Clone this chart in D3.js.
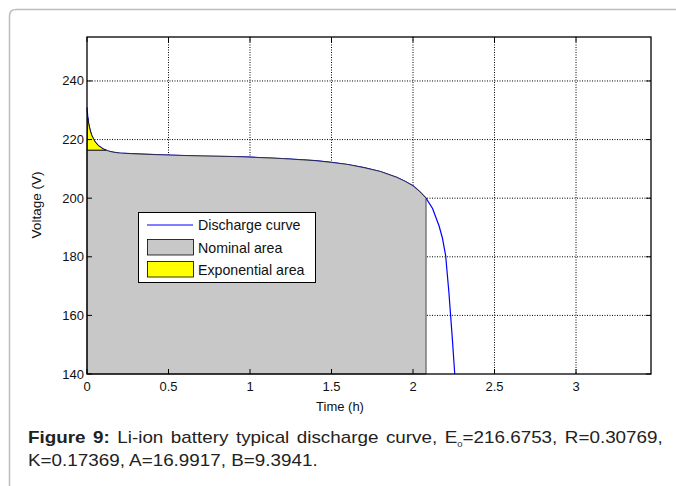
<!DOCTYPE html>
<html>
<head>
<meta charset="utf-8">
<script src="https://cdn.jsdelivr.net/npm/d3@7"></script>
<style>
  html, body { margin: 0; padding: 0; background: #fff; }
  svg { display: block; font-family: Arial, "Liberation Sans", Helvetica, sans-serif; }
</style>
</head>
<body>
<svg id="chart" width="676" height="486"></svg>
<script>
// ---- data ----
const timeH   = [0, 0.005, 0.01, 0.02, 0.03, 0.05, 0.07, 0.10, 0.13, 0.16, 0.20, 0.30, 0.50, 0.70, 0.90, 1.00, 1.20, 1.40, 1.50, 1.60, 1.70, 1.80, 1.90, 1.95, 2.00, 2.04, 2.08, 2.12, 2.16, 2.18, 2.20, 2.22, 2.24, 2.256];
const voltage = [231, 227.5, 225.5, 223.0, 221.3, 219.2, 217.9, 216.8, 216.1, 215.7, 215.4, 215.1, 214.7, 214.4, 214.2, 214.0, 213.5, 212.8, 212.2, 211.5, 210.4, 209.1, 207.1, 205.8, 204.2, 202.3, 200.0, 196.5, 190.5, 186.5, 180.5, 168.0, 153.0, 140.0];
const nominalLevel = 216.4;   // top of exponential zone
const nominalEndTime = 2.08;  // end of nominal zone
const xTicks = [0, 0.5, 1, 1.5, 2, 2.5, 3];
const yTicks = [140, 160, 180, 200, 220, 240];
const legendLabels = ["Discharge curve", "Nominal area", "Exponential area"];
const xLabel = "Time (h)";
const yLabel = "Voltage (V)";

const svg = d3.select("#chart");
const L = 87, R = 651, T = 37, B = 374;
const x = d3.scaleLinear().domain([0, 3.46]).range([L, R]);
const y = d3.scaleLinear().domain([140, 255]).range([B, T]);

// outer frame with rounded top-left corner
svg.append("path")
  .attr("d", `M9.5,490 L9.5,16 Q9.5,9.5 16,9.5 L680,9.5`)
  .attr("fill", "none").attr("stroke", "#bdbdbd").attr("stroke-width", 1.5);

const pts = timeH.map((t, i) => [t, voltage[i]]);

// find crossing with nominal level
let crossIdx = pts.findIndex(p => p[1] <= nominalLevel);
const pA = pts[crossIdx - 1], pB = pts[crossIdx];
const tCross = pA[0] + (pA[1] - nominalLevel) / (pA[1] - pB[1]) * (pB[0] - pA[0]);

// grid
const grid = svg.append("g");
xTicks.filter(t => t > 0).forEach(t => {
  grid.append("line").attr("x1", x(t)).attr("x2", x(t)).attr("y1", T).attr("y2", B)
    .attr("stroke", "#000").attr("stroke-width", 1).attr("stroke-dasharray", "1,1.5");
});
yTicks.filter(v => v > 140).forEach(v => {
  grid.append("line").attr("x1", L).attr("x2", R).attr("y1", y(v)).attr("y2", y(v))
    .attr("stroke", "#000").attr("stroke-width", 1).attr("stroke-dasharray", "1,1.5");
});

const line = d3.line().x(d => x(d[0])).y(d => y(d[1]));

// blue discharge curve
svg.append("path").datum(pts).attr("d", line)
  .attr("fill", "none").attr("stroke", "#0000ff").attr("stroke-width", 1.2);

// nominal (gray) patch
const nomPts = [[0, 140], [0, nominalLevel], [tCross, nominalLevel]]
  .concat(pts.filter(p => p[0] > tCross && p[0] <= nominalEndTime))
  .concat([[nominalEndTime, 140]]);
svg.append("path").datum(nomPts).attr("d", d => line(d) + "Z")
  .attr("fill", "#c8c8c8").attr("stroke", "#222").attr("stroke-width", 0.8);

// exponential (yellow) patch
const expPts = pts.filter(p => p[0] < tCross && p[0] > 0.004).concat([[tCross, nominalLevel], [0, nominalLevel]]);
svg.append("path").datum(expPts).attr("d", d => line(d) + "Z")
  .attr("fill", "#ffff00").attr("stroke", "#000").attr("stroke-width", 0.8);

// axes box
svg.append("rect").attr("x", L).attr("y", T).attr("width", R - L).attr("height", B - T)
  .attr("fill", "none").attr("stroke", "#000").attr("stroke-width", 1.3);

// ticks (inside, all four sides)
const tk = svg.append("g").attr("stroke", "#000").attr("stroke-width", 1);
xTicks.forEach(t => {
  tk.append("line").attr("x1", x(t)).attr("x2", x(t)).attr("y1", B).attr("y2", B - 5);
  tk.append("line").attr("x1", x(t)).attr("x2", x(t)).attr("y1", T).attr("y2", T + 5);
});
yTicks.forEach(v => {
  tk.append("line").attr("x1", L).attr("x2", L + 5).attr("y1", y(v)).attr("y2", y(v));
  tk.append("line").attr("x1", R).attr("x2", R - 5).attr("y1", y(v)).attr("y2", y(v));
});

// tick labels
svg.append("g").selectAll("text").data(xTicks).join("text")
  .attr("x", d => x(d)).attr("y", B + 17).attr("text-anchor", "middle")
  .attr("font-size", 13).attr("fill", "#111").text(d => d);
svg.append("g").selectAll("text").data(yTicks).join("text")
  .attr("x", L - 3).attr("y", d => y(d) + 4.5).attr("text-anchor", "end")
  .attr("font-size", 13).attr("fill", "#111").text(d => d);

svg.append("text").attr("x", 340).attr("y", 411).attr("text-anchor", "middle")
  .attr("font-size", 13).attr("fill", "#111").text(xLabel);
svg.append("text").attr("transform", `translate(41,205) rotate(-90)`)
  .attr("text-anchor", "middle").attr("font-size", 13.5).attr("fill", "#111").text(yLabel);

// legend
const lg = svg.append("g");
lg.append("rect").attr("x", 138.5).attr("y", 212.5).attr("width", 177).attr("height", 70)
  .attr("fill", "#fff").attr("stroke", "#000").attr("stroke-width", 1);
lg.append("line").attr("x1", 147).attr("x2", 193).attr("y1", 225).attr("y2", 225)
  .attr("stroke", "#0000ff").attr("stroke-width", 1.2);
lg.append("rect").attr("x", 147.5).attr("y", 239.5).attr("width", 46).attr("height", 15.5)
  .attr("fill", "#c8c8c8").attr("stroke", "#000").attr("stroke-width", 0.8);
lg.append("rect").attr("x", 147.5).attr("y", 261.5).attr("width", 46).attr("height", 15.5)
  .attr("fill", "#ffff00").attr("stroke", "#000").attr("stroke-width", 0.8);
[230, 252.5, 275].forEach((yy, i) => {
  lg.append("text").attr("x", 198).attr("y", yy).attr("font-size", 14.2).attr("fill", "#111").text(legendLabels[i]);
});

// caption (text in the reference is horizontally wide; scale to match)
const capG = svg.append("g");
const cap1 = capG.append("text").attr("x", 0).attr("y", 0).attr("font-size", 16).attr("fill", "#222");
cap1.append("tspan").attr("font-weight", "bold").text("Figure 9:");
cap1.append("tspan").text(" Li-ion battery typical discharge curve, E");
cap1.append("tspan").attr("font-size", 8).attr("dy", 4).text("0");
cap1.append("tspan").attr("dy", -4).text("=216.6753, R=0.30769,");
const cap2 = capG.append("text").attr("x", 0).attr("y", 23.5).attr("font-size", 16).attr("fill", "#222")
  .text("K=0.17369, A=16.9917, B=9.3941.");
const w2 = cap2.node().getComputedTextLength();
const sx = (318 - 28) / w2;
capG.attr("transform", `translate(28,442.5) scale(${sx},1)`);
const natural = cap1.node().getComputedTextLength();
const nSpaces = 9;
cap1.attr("word-spacing", ((665 - 28) / sx - natural) / nSpaces);
</script>
</body>
</html>
